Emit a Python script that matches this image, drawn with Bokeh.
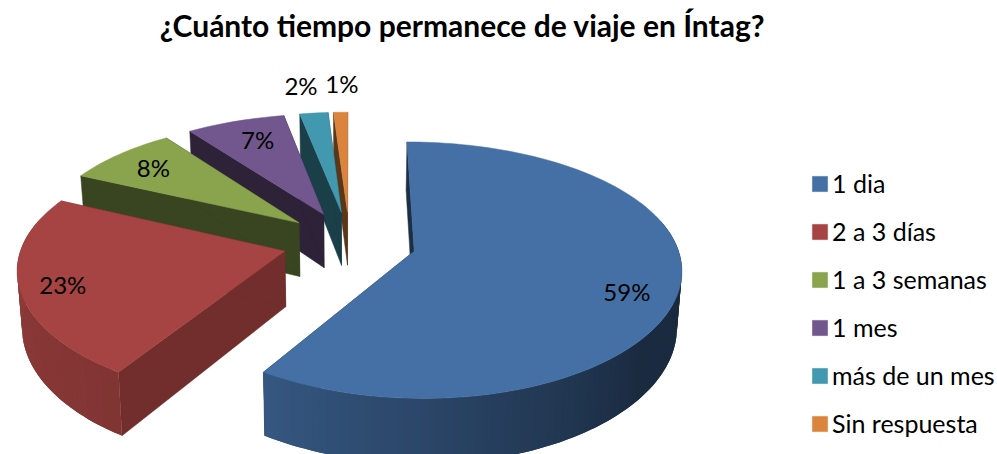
import numpy as np
from bokeh.embed import file_html
from bokeh.resources import INLINE
from bokeh.plotting import figure
from bokeh.models import Range1d, Legend, LegendItem
from bokeh.core.properties import value

TITLE = "¿Cuánto tiempo permanece de viaje en Íntag?"
categories = ["1 dia", "2 a 3 días", "1 a 3 semanas", "1 mes", "más de un mes", "Sin respuesta"]
values = [59, 23, 8, 7, 2, 1]
labels = ["59%", "23%", "8%", "7%", "2%", "1%"]
colors = ["#4570A6", "#A54442", "#89A44D", "#71578E", "#4198AF", "#DB843D"]
cut_shade = [0.42, 0.69, 0.42, 0.40, 0.42, 0.42]
label_radius = [0.88, 0.83, 0.62, 0.68, 1.33, 1.30]
label_shift = [(-20, 8), (-3, 3), (-31, -11), (-4, -9), (-5, 0), (3, -3)]

WF, HF = 997, 454
CX, CY, A, B, KX, KY = 349.0, 241.8, 262.0, 122.8, 0.125, 0.147
EXPLODE, DEPTH, SHRINK = 0.255, 55.0, 0.985
FONT = "Lato"


def top(X, Y):
    X, Y = np.asarray(X, float), np.asarray(Y, float)
    return CX + A * X / (1 + KX * Y), CY - B * Y / (1 + KY * Y)


def bottom(X, Y):
    X, Y = np.asarray(X, float), np.asarray(Y, float)
    return CX + A * X / (1 + KX * Y) * SHRINK, CY - B * Y / (1 + KY * Y) + DEPTH / (1 + KY * Y)


def shade(c, f):
    r, g, b = int(c[1:3], 16), int(c[3:5], 16), int(c[5:7], 16)
    return "#%02x%02x%02x" % (int(r * f), int(g * f), int(b * f))


def wall_factor(theta):
    return float(np.interp(theta, [90, 130, 212, 260, 300], [0.38, 0.39, 0.78, 0.85, 0.88]))


p = figure(width=WF, height=HF, output_backend="svg", toolbar_location=None,
           x_range=Range1d(0, WF), y_range=Range1d(HF, 0), min_border=0,
           outline_line_color=None, background_fill_color="white", border_fill_color="white")
p.axis.visible = False
p.grid.visible = False

total = sum(values)
t0 = 0.0
spans = []
for v in values:
    t1 = t0 + 360.0 * v / total
    spans.append((t0, t1))
    t0 = t1

items = []
for i in range(len(values) - 1, -1, -1):
    a0, a1 = spans[i]
    mid = np.radians((a0 + a1) / 2)
    ox, oy = EXPLODE * np.sin(mid), EXPLODE * np.cos(mid)
    th = np.linspace(a0, a1, max(4, int((a1 - a0) / 1.5)))
    wx, wy = ox + np.sin(np.radians(th)), oy + np.cos(np.radians(th))

    # cut faces
    for a in (a0, a1):
        ex, ey = ox + np.sin(np.radians(a)), oy + np.cos(np.radians(a))
        tx, ty = top([ox, ex], [oy, ey])
        bx, by = bottom([ex, ox], [ey, oy])
        c = shade(colors[i], cut_shade[i])
        p.patch(list(tx) + list(bx), list(ty) + list(by), fill_color=c, line_color=c, line_width=0.5)

    # outer wall strips; each one overlaps the next so no seams show
    xs, ys, cs = [], [], []
    for j in range(len(th) - 1):
        if np.cos(np.radians((th[j] + th[j + 1]) / 2)) > 0.25:
            continue
        k = min(j + 3, len(th))
        tx, ty = top(wx[j:k], wy[j:k])
        bx, by = bottom(wx[j:k][::-1], wy[j:k][::-1])
        xs.append(list(tx) + list(bx))
        ys.append(list(ty) + list(by))
        cs.append(shade(colors[i], wall_factor((th[j] + th[j + 1]) / 2)))
    if xs:
        p.patches(xs, ys, fill_color=cs, line_color=None)

    # top face
    tx, ty = top(np.r_[ox, wx], np.r_[oy, wy])
    r = p.patch(tx, ty, fill_color=colors[i], line_color=colors[i], line_width=0.5)
    items.insert(0, LegendItem(label=value(categories[i]), renderers=[r]))

# percentage labels
lx, ly = [], []
for i, (a0, a1) in enumerate(spans):
    mid = np.radians((a0 + a1) / 2)
    rr = EXPLODE + label_radius[i]
    x, y = top(rr * np.sin(mid), rr * np.cos(mid))
    lx.append(float(x) + label_shift[i][0])
    ly.append(float(y) + label_shift[i][1])
p.text(lx, ly, text=labels, text_font=value(FONT), text_font_size="24px",
       text_align="center", text_baseline="middle", text_color="#000000")

p.text([462], [24], text=[TITLE], text_font=value(FONT), text_font_style="bold",
       text_font_size="30px", text_align="center", text_baseline="middle", text_color="#000000")

legend = Legend(items=items, location=(810, 16), orientation="vertical", margin=0, padding=0,
                glyph_width=19, glyph_height=19, label_standoff=3, spacing=18, label_height=20,
                label_text_font=FONT, label_text_font_size="25px", label_text_color="#000000",
                background_fill_alpha=0, border_line_color=None)
p.add_layout(legend, "center")

open("out.html", "w").write(file_html(p, INLINE))
